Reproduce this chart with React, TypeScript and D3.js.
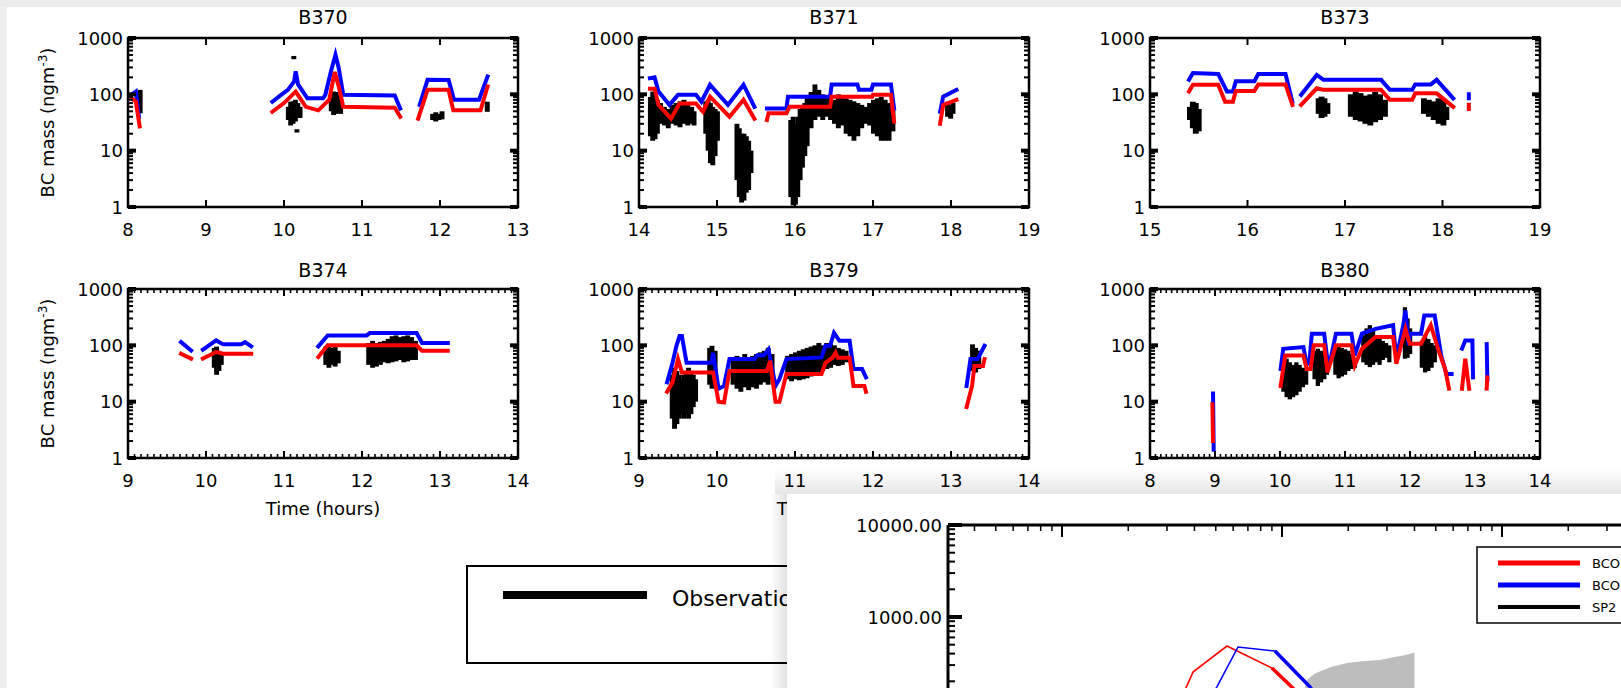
import * as d3 from 'd3';
import React, { useRef, useEffect } from 'react';

const WIDTH = 1621;
const HEIGHT = 688;
const FONT = 'DejaVu Sans, sans-serif';

const panelNames = ['B370', 'B371', 'B373', 'B374', 'B379', 'B380'];
const panelHours = [[8, 13], [14, 19], [15, 19], [9, 14], [9, 14], [8, 14]];
const massTicks = [1, 10, 100, 1000];

// model values [hour, ng m-3], null breaks the line
const blueB370 = [[8.05, 100], [8.1, 112], [8.14, 40], null,
  [9.85, 74], [9.95, 95], [10.05, 120], [10.13, 170], [10.15, 255], [10.18, 150], [10.3, 85], [10.5, 85], [10.53, 98], [10.6, 250], [10.66, 505], [10.7, 300], [10.76, 98], [11.42, 95], [11.49, 56], null,
  [11.74, 65], [11.84, 181], [12.11, 180], [12.18, 80], [12.5, 80], [12.61, 207]];
const redB370 = [[8.05, 85], [8.1, 75], [8.15, 27], null,
  [9.85, 49], [10.0, 70], [10.15, 112], [10.28, 60], [10.44, 52], [10.58, 80], [10.65, 250], [10.7, 140], [10.76, 60], [11.42, 58], [11.49, 40], null,
  [11.72, 37], [11.84, 120], [12.11, 120], [12.17, 52], [12.52, 52], [12.61, 138]];
const blueB371 = [[14.14, 194], [14.2, 200], [14.25, 112], [14.39, 65], [14.5, 98], [14.73, 98], [14.8, 74], [14.91, 148], [15.14, 65], [15.34, 148], [15.48, 60], null,
  [15.64, 56], [15.89, 56], [15.91, 91], [16.45, 91], [16.47, 150], [16.8, 150], [16.82, 120], [16.98, 120], [17.0, 150], [17.23, 150], [17.27, 56], null,
  [17.86, 49], [17.9, 91], [18.07, 120]];
const redB371 = [[14.14, 125], [14.2, 125], [14.25, 65], [14.41, 37], [14.52, 69], [14.73, 69], [14.82, 49], [14.91, 91], [15.16, 40], [15.34, 80], [15.48, 37], null,
  [15.64, 35], [15.66, 46], [15.89, 46], [15.93, 60], [16.45, 60], [16.47, 91], [16.99, 91], [17.0, 98], [17.23, 98], [17.27, 33], null,
  [17.86, 30], [17.9, 65], [18.07, 80]];
const blueB373 = [[15.4, 181], [15.44, 239], [15.7, 229], [15.79, 112], [15.85, 112], [15.88, 170], [16.07, 170], [16.11, 229], [16.39, 229], [16.46, 74], null,
  [16.55, 98], [16.71, 221], [16.78, 181], [17.37, 181], [17.46, 120], [17.69, 120], [17.72, 150], [17.88, 150], [17.94, 181], [18.11, 85], null,
  [18.27, 85], [18.27, 100]];
const redB373 = [[15.4, 112], [15.44, 148], [15.7, 148], [15.77, 74], [15.85, 74], [15.88, 115], [16.07, 115], [16.11, 150], [16.39, 150], [16.46, 65], null,
  [16.55, 65], [16.71, 128], [16.78, 120], [17.37, 120], [17.46, 80], [17.69, 80], [17.72, 104], [17.94, 104], [18.11, 60], null,
  [18.27, 55], [18.27, 65]];
const blueB374 = [[9.68, 114], [9.81, 81], null,
  [9.96, 84], [10.13, 122], [10.22, 104], [10.45, 104], [10.5, 114], [10.58, 96], null,
  [11.44, 96], [11.56, 150], [12.06, 150], [12.1, 165], [12.7, 165], [12.77, 110], [13.1, 110]];
const redB374 = [[9.68, 71], [9.81, 58], null,
  [9.96, 58], [10.13, 76], [10.22, 71], [10.58, 71], null,
  [11.44, 62], [11.56, 100], [12.7, 100], [12.77, 80], [13.1, 80]];
const blueB379 = [[9.36, 22], [9.43, 49], [9.48, 98], [9.52, 146], [9.55, 146], [9.61, 49], [9.93, 49], [9.95, 74], [10.02, 17], [10.09, 19], [10.16, 57], [10.48, 57], [10.52, 67], [10.6, 67], [10.66, 85], [10.75, 19], [10.8, 25], [10.89, 57], [11.34, 61], [11.39, 98], [11.45, 98], [11.5, 167], [11.57, 120], [11.7, 120], [11.75, 38], [11.86, 38], [11.91, 27], null,
  [13.2, 19], [13.25, 57], [13.34, 57], [13.43, 98]];
const redB379 = [[9.36, 15], [9.43, 22], [9.5, 57], [9.55, 33], [9.95, 33], [10.02, 10], [10.09, 9.7], [10.16, 35], [10.64, 35], [10.68, 53], [10.75, 10], [10.8, 10], [10.89, 31], [11.34, 31], [11.39, 49], [11.48, 60], [11.52, 74], [11.55, 60], [11.7, 60], [11.75, 19], [11.89, 19], [11.91, 15], null,
  [13.2, 8], [13.27, 19], [13.3, 43], [13.41, 43], [13.43, 57]];
const blueB380 = [[8.97, 14], [8.98, 1.4], null,
  [10.01, 38], [10.05, 87], [10.36, 93], [10.41, 47], [10.45, 47], [10.49, 161], [10.68, 161], [10.73, 54], [10.78, 58], [10.86, 161], [11.1, 161], [11.15, 66], [11.26, 161], [11.47, 196], [11.74, 228], [11.79, 58], [11.9, 240], [11.93, 418], [11.98, 100], [12.0, 161], [12.17, 161], [12.22, 340], [12.38, 340], [12.48, 66], [12.56, 31], [12.64, 31], null,
  [12.8, 87], [12.85, 122], [12.96, 122], [12.97, 27], null,
  [13.18, 105], [13.19, 25]];
const redB380 = [[8.96, 9], [8.97, 2], null,
  [10.01, 19], [10.08, 66], [10.36, 66], [10.41, 38], [10.47, 38], [10.52, 100], [10.68, 100], [10.73, 33], [10.86, 100], [11.1, 100], [11.15, 44], [11.26, 87], [11.47, 140], [11.74, 140], [11.79, 47], [11.93, 196], [11.98, 122], [12.0, 107], [12.17, 107], [12.32, 228], [12.43, 87], [12.54, 38], [12.6, 17], null,
  [12.8, 17], [12.85, 58], [12.91, 17], null,
  [13.18, 17], [13.19, 27]];

// observations [hour, low, high]
const obsB370 = [[8.15, 46, 120],
  [10.05, 35, 60], [10.08, 28, 74], [10.11, 30, 75], [10.14, 33, 80], [10.17, 40, 70], [10.2, 38, 60], [10.12, 420, 480], [10.16, 21, 24],
  [10.6, 50, 90], [10.63, 43, 112], [10.66, 45, 110], [10.69, 48, 100], [10.72, 45, 85],
  [11.9, 35, 45], [11.94, 33, 48], [11.98, 35, 45], [12.02, 36, 50], [12.6, 49, 74]];
const obsB371 = [[14.14, 18, 90], [14.17, 15, 112], [14.2, 16, 100], [14.23, 20, 80],
  [14.27, 30, 70], [14.32, 28, 60], [14.37, 25, 55], [14.42, 30, 65], [14.47, 28, 70], [14.52, 26, 75], [14.57, 30, 80], [14.62, 28, 70], [14.67, 30, 60], [14.7, 28, 50],
  [14.85, 20, 75], [14.88, 10, 80], [14.91, 6, 70], [14.94, 5.5, 60], [14.97, 8, 55], [15.0, 15, 50],
  [15.25, 3, 30], [15.28, 1.5, 25], [15.31, 1.2, 20], [15.34, 1.3, 20], [15.37, 1.8, 18], [15.4, 2, 15], [15.43, 4, 10],
  [15.94, 1.5, 35], [15.97, 1.07, 40], [16.0, 1.1, 30], [16.03, 1.5, 40], [16.06, 3, 55], [16.09, 5, 60], [16.12, 8, 70],
  [16.15, 12, 90], [16.2, 25, 110], [16.25, 35, 150], [16.3, 40, 120], [16.35, 35, 100],
  [16.4, 40, 95], [16.45, 35, 90], [16.5, 30, 80], [16.55, 25, 100], [16.6, 28, 90], [16.65, 20, 85], [16.7, 18, 80], [16.75, 15, 75], [16.8, 18, 70], [16.85, 25, 65], [16.9, 30, 60], [16.95, 28, 70], [17.0, 20, 80], [17.05, 18, 85], [17.1, 15, 90], [17.15, 15, 80], [17.2, 15, 70], [17.25, 22, 60],
  [17.95, 40, 74], [17.99, 37, 65], [18.02, 45, 70]];
const obsB373 = [[15.4, 35, 60], [15.43, 25, 74], [15.46, 20, 70], [15.49, 22, 55],
  [16.72, 45, 85], [16.75, 38, 91], [16.78, 40, 85], [16.81, 45, 70],
  [17.05, 40, 100], [17.1, 35, 112], [17.15, 33, 105], [17.2, 30, 95], [17.25, 28, 100], [17.3, 32, 110], [17.35, 35, 100], [17.4, 40, 80],
  [17.8, 45, 85], [17.85, 40, 80], [17.9, 35, 75], [17.95, 30, 85], [18.0, 28, 80], [18.03, 35, 60]];
const obsB374 = [[10.1, 40, 90], [10.13, 30, 95], [10.16, 35, 80], [10.19, 45, 70],
  [11.53, 45, 95], [11.57, 40, 100], [11.61, 45, 90], [11.65, 42, 95], [11.69, 48, 80],
  [12.08, 45, 110], [12.13, 40, 120], [12.18, 42, 110], [12.23, 45, 115], [12.28, 50, 120], [12.33, 48, 130], [12.38, 50, 145], [12.43, 52, 150], [12.48, 55, 140], [12.53, 50, 145], [12.58, 52, 150], [12.63, 55, 140], [12.68, 55, 120]];
const obsB379 = [[9.42, 5, 30], [9.45, 3.3, 40], [9.48, 4, 35], [9.51, 5, 30], [9.54, 6, 25], [9.57, 5, 30], [9.6, 6, 35], [9.63, 5, 40], [9.66, 6, 35], [9.69, 8, 30], [9.72, 10, 25],
  [9.9, 20, 90], [9.93, 17, 98], [9.97, 20, 80],
  [10.2, 20, 60], [10.25, 17, 65], [10.3, 15, 60], [10.35, 18, 70], [10.4, 16, 60], [10.45, 18, 65], [10.5, 17, 70], [10.55, 20, 75], [10.6, 22, 80], [10.65, 20, 90], [10.7, 25, 70],
  [10.9, 25, 65], [10.95, 23, 70], [11.0, 25, 75], [11.05, 24, 80], [11.1, 25, 85], [11.15, 26, 90], [11.2, 28, 95], [11.25, 30, 100], [11.3, 30, 110], [11.35, 35, 100], [11.4, 38, 110], [11.45, 40, 105], [11.5, 45, 100], [11.55, 43, 90], [11.6, 45, 85], [11.65, 50, 80],
  [13.27, 35, 104], [13.31, 33, 90], [13.35, 38, 80]];
const obsB380 = [[10.05, 15, 55], [10.1, 12, 58], [10.15, 11, 50], [10.2, 12, 45], [10.25, 13, 50], [10.3, 15, 45], [10.35, 18, 40], [10.4, 20, 35],
  [10.53, 25, 80], [10.58, 19, 87], [10.63, 22, 80], [10.68, 25, 70], [10.72, 30, 60],
  [10.85, 30, 100], [10.9, 26, 95], [10.95, 28, 90], [11.0, 30, 85], [11.05, 35, 80], [11.1, 38, 70], [11.15, 40, 60],
  [11.28, 50, 150], [11.33, 45, 200], [11.38, 41, 228], [11.43, 45, 180], [11.48, 50, 150], [11.53, 45, 130], [11.58, 55, 120], [11.63, 60, 110], [11.68, 50, 100],
  [11.92, 58, 475], [11.96, 60, 300], [12.0, 70, 200],
  [12.18, 40, 120], [12.23, 33, 150], [12.28, 35, 130], [12.33, 40, 110], [12.38, 50, 100]];

const blueSeries = [blueB370, blueB371, blueB373, blueB374, blueB379, blueB380];
const redSeries = [redB370, redB371, redB373, redB374, redB379, redB380];
const obsSeries = [obsB370, obsB371, obsB373, obsB374, obsB379, obsB380];

// size distribution window (diameter, um / dM/dlogD)
const sizeRedD = [0.033, 0.0362, 0.0394, 0.0562, 0.090, 0.112, 0.13];
const sizeRedM = [90, 160, 252, 484, 279, 169, 110];
const sizeBlueD = [0.045, 0.0506, 0.0631, 0.0929, 0.134, 0.15];
const sizeBlueM = [110, 174, 472, 427, 174, 120];
const sp2D = [0.125, 0.13, 0.14, 0.154, 0.17, 0.197, 0.23, 0.279, 0.32, 0.36, 0.394, 0.40];
const sp2M = [150, 206, 240, 265, 290, 316, 330, 341, 365, 385, 406, 410];
const sizeLegend = ['BCO', 'BCO', 'SP2'];
const sizeLegendColors = ['#ff0000', '#0000ff', '#000000'];

function App() {
  const ref = useRef<SVGSVGElement>(null);

  useEffect(() => {
    draw();
  }, []);

  const draw = () => {
    const svg = d3.select(ref.current);
    svg.selectAll('*').remove();

    svg.append('rect').attr('width', WIDTH).attr('height', HEIGHT).attr('fill', '#fff');

    const colLeft = [128, 639, 1150];
    const rowTop = [38, 289];
    const pw = 390, ph = 169;

    panelNames.forEach((name, i) => {
      const col = i % 3, row = Math.floor(i / 3);
      const left = colLeft[col], top = rowTop[row];
      const x = d3.scaleLinear().domain(panelHours[i]).range([left, left + pw]);
      const y = d3.scaleLog().domain([1, 1000]).range([top + ph, top]);
      const g = svg.append('g');

      // observations
      g.selectAll('rect.obs')
        .data(obsSeries[i])
        .enter().append('rect')
        .attr('x', d => x(d[0]) - 2)
        .attr('width', d => Math.max(4, x(d[0] + 0.05) - x(d[0]) + 1))
        .attr('y', d => y(d[2]))
        .attr('height', d => Math.max(2, y(d[1]) - y(d[2])))
        .attr('fill', '#000');

      const line = d3.line<any>()
        .defined(d => d !== null)
        .x(d => x(d[0]))
        .y(d => y(d[1]));

      g.append('path').datum(blueSeries[i]).attr('d', line)
        .attr('fill', 'none').attr('stroke', '#0000ff').attr('stroke-width', 4)
        .attr('stroke-linecap', 'square');
      g.append('path').datum(redSeries[i]).attr('d', line)
        .attr('fill', 'none').attr('stroke', '#ff0000').attr('stroke-width', 4)
        .attr('stroke-linecap', 'square');

      // box
      g.append('rect').attr('x', left).attr('y', top).attr('width', pw).attr('height', ph)
        .attr('fill', 'none').attr('stroke', '#000').attr('stroke-width', 2.5);

      // y ticks (log, both sides)
      massTicks.forEach(m => {
        [[left, 1], [left + pw, -1]].forEach(([x0, s]) => {
          g.append('line').attr('x1', x0).attr('x2', x0 + s * 8).attr('y1', y(m)).attr('y2', y(m))
            .attr('stroke', '#000').attr('stroke-width', 4);
          if (m < 1000) {
            d3.range(2, 10).forEach(k => {
              g.append('line').attr('x1', x0).attr('x2', x0 + s * 5)
                .attr('y1', y(m * k)).attr('y2', y(m * k))
                .attr('stroke', '#000').attr('stroke-width', 2);
            });
          }
        });
        g.append('text').attr('x', left - 5).attr('y', y(m) + 6.5)
          .attr('text-anchor', 'end').attr('font-family', FONT).attr('font-size', 18)
          .text(m);
      });

      // x ticks
      const [h0, h1] = panelHours[i];
      d3.range(h0, h1 + 1).forEach(h => {
        [[top, 1], [top + ph, -1]].forEach(([y0, s]) => {
          g.append('line').attr('x1', x(h)).attr('x2', x(h)).attr('y1', y0).attr('y2', y0 + s * 7)
            .attr('stroke', '#000').attr('stroke-width', 2);
        });
        g.append('text').attr('x', x(h)).attr('y', top + ph + 29)
          .attr('text-anchor', 'middle').attr('font-family', FONT).attr('font-size', 18)
          .text(h);
      });
      if (row === 1) {
        d3.range(h0 * 12, h1 * 12).forEach(k => {
          if (k % 12 === 0) return;
          [[top, 1], [top + ph, -1]].forEach(([y0, s]) => {
            g.append('line').attr('x1', x(k / 12)).attr('x2', x(k / 12)).attr('y1', y0).attr('y2', y0 + s * 4)
              .attr('stroke', '#000').attr('stroke-width', 1.6);
          });
        });
        g.append('text').attr('x', left + pw / 2).attr('y', top + ph + 57)
          .attr('text-anchor', 'middle').attr('font-family', FONT).attr('font-size', 18)
          .text('Time (hours)');
      }

      g.append('text').attr('x', left + pw / 2).attr('y', top - (row === 0 ? 14 : 12))
        .attr('text-anchor', 'middle').attr('font-family', FONT).attr('font-size', 19)
        .text(name);

      if (col === 0) {
        const t = g.append('text')
          .attr('transform', `translate(54,${top + ph / 2}) rotate(-90)`)
          .attr('text-anchor', 'middle').attr('font-family', FONT).attr('font-size', 18);
        t.append('tspan').text('BC mass (ngm');
        t.append('tspan').attr('dy', -7).attr('font-size', 12).text('-3');
        t.append('tspan').attr('dy', 7).text(')');
      }
    });

    // legend of the panels
    svg.append('rect').attr('x', 467).attr('y', 566).attr('width', 420).attr('height', 97)
      .attr('fill', 'none').attr('stroke', '#000').attr('stroke-width', 2);
    svg.append('line').attr('x1', 503).attr('x2', 647).attr('y1', 595).attr('y2', 595)
      .attr('stroke', '#000').attr('stroke-width', 8);
    svg.append('text').attr('x', 672).attr('y', 606).attr('font-family', FONT).attr('font-size', 22)
      .text('Observations');

    // window chrome (grey border strips)
    svg.append('rect').attr('x', 0).attr('y', 0).attr('width', WIDTH).attr('height', 7).attr('fill', '#ebebeb');
    svg.append('rect').attr('x', 0).attr('y', 7).attr('width', 7).attr('height', HEIGHT).attr('fill', '#efefef');

    // second window on top
    const defs = svg.append('defs');
    const gv = defs.append('linearGradient').attr('id', 'shTop').attr('x1', 0).attr('y1', 0).attr('x2', 0).attr('y2', 1);
    gv.append('stop').attr('offset', 0).attr('stop-color', '#000').attr('stop-opacity', 0);
    gv.append('stop').attr('offset', 1).attr('stop-color', '#000').attr('stop-opacity', 0.1);
    const gh = defs.append('linearGradient').attr('id', 'shLeft').attr('x1', 0).attr('y1', 0).attr('x2', 1).attr('y2', 0);
    gh.append('stop').attr('offset', 0).attr('stop-color', '#000').attr('stop-opacity', 0);
    gh.append('stop').attr('offset', 1).attr('stop-color', '#000').attr('stop-opacity', 0.12);

    const wx = 787, wy = 494;
    svg.append('rect').attr('x', wx - 12).attr('y', wy - 26).attr('width', WIDTH - wx + 12).attr('height', 26).attr('fill', 'url(#shTop)');
    svg.append('rect').attr('x', wx - 16).attr('y', wy).attr('width', 16).attr('height', HEIGHT - wy).attr('fill', 'url(#shLeft)');
    svg.append('rect').attr('x', wx).attr('y', wy).attr('width', WIDTH - wx).attr('height', HEIGHT - wy).attr('fill', '#fff');

    const w = svg.append('g');
    const sx = d3.scaleLog().domain([0.01, 1]).range([1062, 1502]);
    const sy = d3.scaleLog().domain([1000, 10000]).range([617, 525]);
    const plotLeft = 948, plotTop = 525;

    const sp2Area = d3.area<number>()
      .x((d, k) => sx(sp2D[k]))
      .y0(sy(10))
      .y1(d => sy(d));
    w.append('path').datum(sp2M).attr('d', sp2Area).attr('fill', '#bdbdbd');

    const sizeLine = (ds: number[]) => d3.line<number>().x((d, k) => sx(ds[k])).y(d => sy(d));
    w.append('path').datum(sizeRedM).attr('d', sizeLine(sizeRedD))
      .attr('fill', 'none').attr('stroke', '#ff0000').attr('stroke-width', 1.6);
    w.append('path').datum(sizeRedM.slice(4)).attr('d', sizeLine(sizeRedD.slice(4)))
      .attr('fill', 'none').attr('stroke', '#ff0000').attr('stroke-width', 3.5);
    w.append('path').datum(sizeBlueM).attr('d', sizeLine(sizeBlueD))
      .attr('fill', 'none').attr('stroke', '#0000ff').attr('stroke-width', 1.6);
    w.append('path').datum(sizeBlueM.slice(3)).attr('d', sizeLine(sizeBlueD.slice(3)))
      .attr('fill', 'none').attr('stroke', '#0000ff').attr('stroke-width', 3.5);

    // axes of the size plot
    w.append('line').attr('x1', plotLeft).attr('x2', WIDTH).attr('y1', plotTop).attr('y2', plotTop)
      .attr('stroke', '#000').attr('stroke-width', 3);
    w.append('line').attr('x1', plotLeft).attr('x2', plotLeft).attr('y1', plotTop).attr('y2', HEIGHT)
      .attr('stroke', '#000').attr('stroke-width', 3);
    [0.001, 0.01, 0.1, 1].forEach(dec => {
      d3.range(1, 10).forEach(k => {
        const px = sx(dec * k);
        if (px <= plotLeft + 1 || px > WIDTH) return;
        w.append('line').attr('x1', px).attr('x2', px).attr('y1', plotTop).attr('y2', plotTop + (k === 1 ? 12 : 6))
          .attr('stroke', '#000').attr('stroke-width', k === 1 ? 2 : 1.5);
      });
    });
    [10, 100, 1000].forEach(dec => {
      d3.range(1, 11).forEach(k => {
        const py = sy(dec * k);
        if (py < plotTop - 1 || py > HEIGHT) return;
        const major = k === 1 || k === 10;
        w.append('line').attr('x1', plotLeft).attr('x2', plotLeft + (major ? 14 : 7)).attr('y1', py).attr('y2', py)
          .attr('stroke', '#000').attr('stroke-width', major ? 4 : 2);
      });
    });
    [10000, 1000].forEach(v => {
      w.append('text').attr('x', plotLeft - 6).attr('y', sy(v) + 7)
        .attr('text-anchor', 'end').attr('font-family', FONT).attr('font-size', 18)
        .text(v.toFixed(2));
    });

    // legend of the size plot
    w.append('rect').attr('x', 1477).attr('y', 547).attr('width', 200).attr('height', 76)
      .attr('fill', '#fff').attr('stroke', '#000').attr('stroke-width', 1.5);
    sizeLegend.forEach((label, k) => {
      const ly = 563 + k * 22;
      w.append('line').attr('x1', 1498).attr('x2', 1580).attr('y1', ly).attr('y2', ly)
        .attr('stroke', sizeLegendColors[k]).attr('stroke-width', k < 2 ? 5 : 4);
      w.append('text').attr('x', 1592).attr('y', ly + 5).attr('font-family', FONT).attr('font-size', 13)
        .text(label);
    });
  };

  return (
    <svg ref={ref} width={WIDTH} height={HEIGHT} style={{ position: 'absolute', left: 0, top: 0 }}>
    </svg>
  );
}

export default App;
